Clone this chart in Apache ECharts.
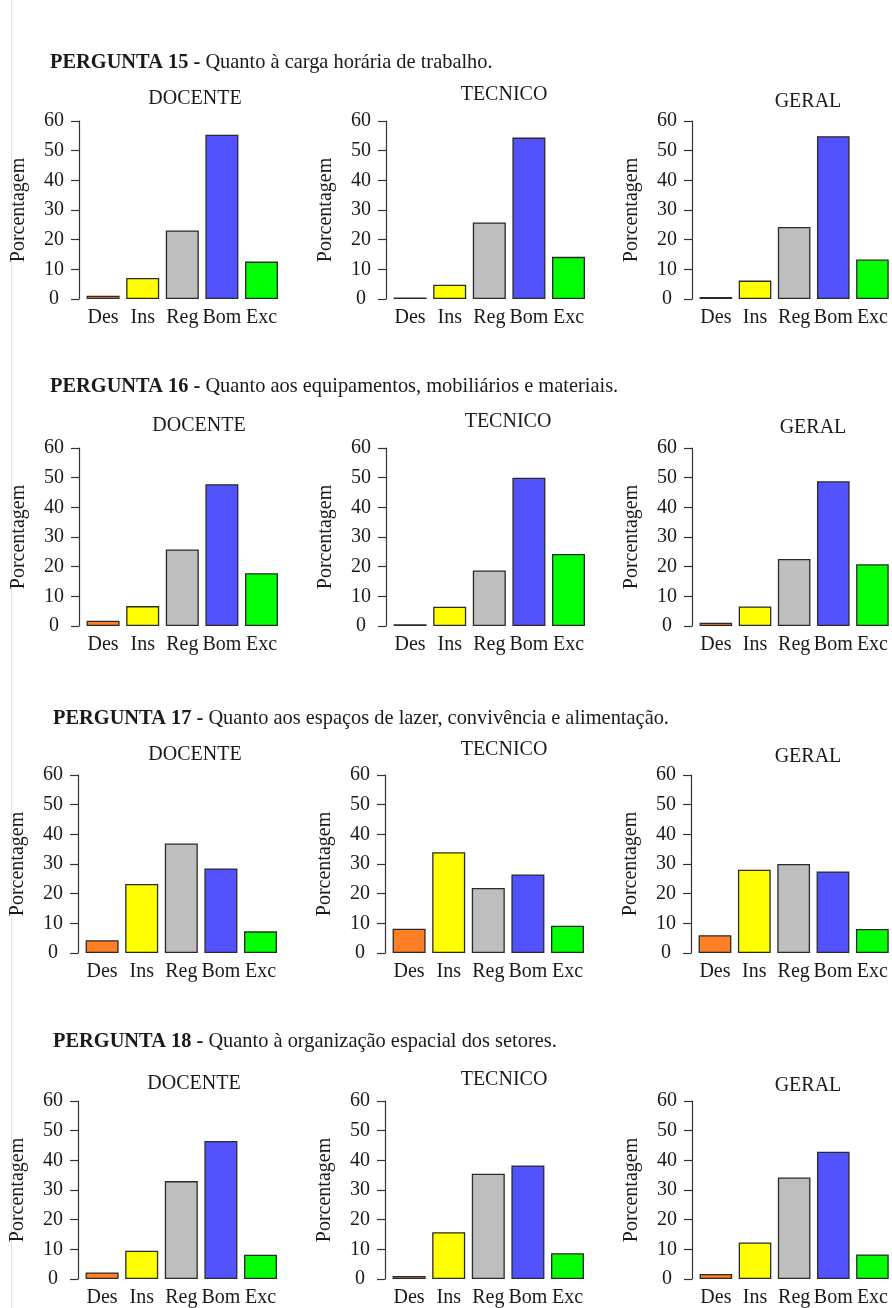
<!DOCTYPE html>
<html>
<head>
<meta charset="utf-8">
<script src="https://cdn.jsdelivr.net/npm/echarts@6/dist/echarts.min.js"></script>
<style>
  html, body { margin: 0; padding: 0; background: #fff; }
  #chart { width: 892px; height: 1308px; }
</style>
</head>
<body>
<div id="chart"></div>
<script>
// categorias e grupos
const categories = ['Des', 'Ins', 'Reg', 'Bom', 'Exc']
const groups = ['DOCENTE', 'TECNICO', 'GERAL']
const yTicks = [0, 10, 20, 30, 40, 50, 60]

const questionNums = ['PERGUNTA 15 -', 'PERGUNTA 16 -', 'PERGUNTA 17 -', 'PERGUNTA 18 -']
const questionTexts = [
  'Quanto à carga horária de trabalho.',
  'Quanto aos equipamentos, mobiliários e materiais.',
  'Quanto aos espaços de lazer, convivência e alimentação.',
  'Quanto à organização espacial dos setores.'
]

// porcentagens (Des, Ins, Reg, Bom, Exc)
const p15Docente = [1.1, 7.1, 23.1, 55.4, 12.6]
const p15Tecnico = [0.5, 4.8, 25.8, 54.4, 14.2]
const p15Geral = [0.7, 6.2, 24.3, 54.9, 13.3]

const p16Docente = [1.8, 6.7, 25.8, 47.8, 17.8]
const p16Tecnico = [0.6, 6.5, 18.7, 50.0, 24.3]
const p16Geral = [1.1, 6.6, 22.6, 48.8, 20.8]

const p17Docente = [4.3, 23.3, 36.9, 28.5, 7.3]
const p17Tecnico = [8.2, 34.0, 21.9, 26.5, 9.2]
const p17Geral = [6.0, 28.1, 30.0, 27.5, 8.1]

const p18Docente = [2.2, 9.5, 33.0, 46.5, 8.2]
const p18Tecnico = [1.0, 15.8, 35.5, 38.3, 8.7]
const p18Geral = [1.7, 12.3, 34.2, 42.9, 8.3]

const rowsData = [
  [p15Docente, p15Tecnico, p15Geral],
  [p16Docente, p16Tecnico, p16Geral],
  [p17Docente, p17Tecnico, p17Geral],
  [p18Docente, p18Tecnico, p18Geral]
]

// layout (px)
const barColors = ['#FF7F24', '#FFFF00', '#BEBEBE', '#5252FF', '#00FF00']
const FONT = "'Liberation Serif', 'DejaVu Serif', serif"
const TEXT = '#1a1a1a'
const rowTop = [121, 448, 775, 1101]
const plotH = 178
const axisX = [
  [79, 386, 692],
  [79, 386, 692],
  [78, 385, 691],
  [78, 385, 692]
]
const titlePos = [
  [[195, 99], [504, 95], [808, 102]],
  [[199, 426], [508, 422], [813, 428]],
  [[195, 755], [504, 750], [808, 757]],
  [[194, 1084], [504, 1080], [808, 1086]]
]
const headerPos = [[50, 63], [50, 387], [53, 719], [53, 1042]]
const axisOffset = 4.3
const plotW = 198

const grid = []
const xAxis = []
const yAxis = []
const series = []
const graphic = []

// linha vertical clara à esquerda
graphic.push({
  type: 'line',
  shape: { x1: 11.5, y1: 0, x2: 11.5, y2: 1308 },
  style: { stroke: '#e4e4e4', lineWidth: 1 }
})

rowsData.forEach((row, r) => {
  graphic.push({
    type: 'text',
    x: headerPos[r][0],
    y: headerPos[r][1],
    style: {
      text: '{b|' + questionNums[r] + '} ' + questionTexts[r],
      font: '20.4px ' + FONT,
      fill: TEXT,
      textVerticalAlign: 'middle',
      rich: {
        b: { fontWeight: 'bold', fontSize: 20.4, fontFamily: FONT, fill: TEXT, color: TEXT }
      }
    }
  })

  row.forEach((values, c) => {
    const idx = grid.length
    grid.push({
      left: axisX[r][c] + axisOffset,
      top: rowTop[r],
      width: plotW,
      height: plotH
    })
    xAxis.push({
      type: 'category',
      gridIndex: idx,
      data: categories,
      axisLine: { show: false },
      axisTick: { show: false },
      axisLabel: {
        margin: 9,
        color: TEXT,
        fontSize: 20,
        fontFamily: FONT,
        interval: 0
      }
    })
    yAxis.push({
      type: 'value',
      gridIndex: idx,
      min: 0,
      max: 60,
      interval: 10,
      offset: axisOffset,
      name: 'Porcentagem',
      nameLocation: 'middle',
      nameRotate: 90,
      nameGap: 50,
      nameTextStyle: { color: TEXT, fontSize: 20, fontFamily: FONT },
      axisLine: { show: true, lineStyle: { color: '#333', width: 1.2 } },
      axisTick: { show: true, length: 8, lineStyle: { color: '#333', width: 1.2 } },
      splitLine: { show: false },
      axisLabel: {
        margin: 25,
        align: 'center',
        color: TEXT,
        fontSize: 20,
        fontFamily: FONT,
        customValues: yTicks
      }
    })
    series.push({
      type: 'bar',
      xAxisIndex: idx,
      yAxisIndex: idx,
      data: values,
      barCategoryGap: '16.67%',
      itemStyle: {
        color: (p) => barColors[p.dataIndex],
        borderColor: '#2a2a2a',
        borderWidth: 1.3
      },
      silent: true
    })

    graphic.push({
      type: 'text',
      x: titlePos[r][c][0],
      y: titlePos[r][c][1],
      style: {
        text: groups[c],
        font: '20px ' + FONT,
        fill: TEXT,
        textAlign: 'center',
        textVerticalAlign: 'middle'
      }
    })
  })
})

const chart = echarts.init(document.getElementById('chart'), null, { renderer: 'canvas' })
chart.setOption({
  backgroundColor: '#fff',
  animation: false,
  grid,
  xAxis,
  yAxis,
  series,
  graphic
})
</script>
</body>
</html>
